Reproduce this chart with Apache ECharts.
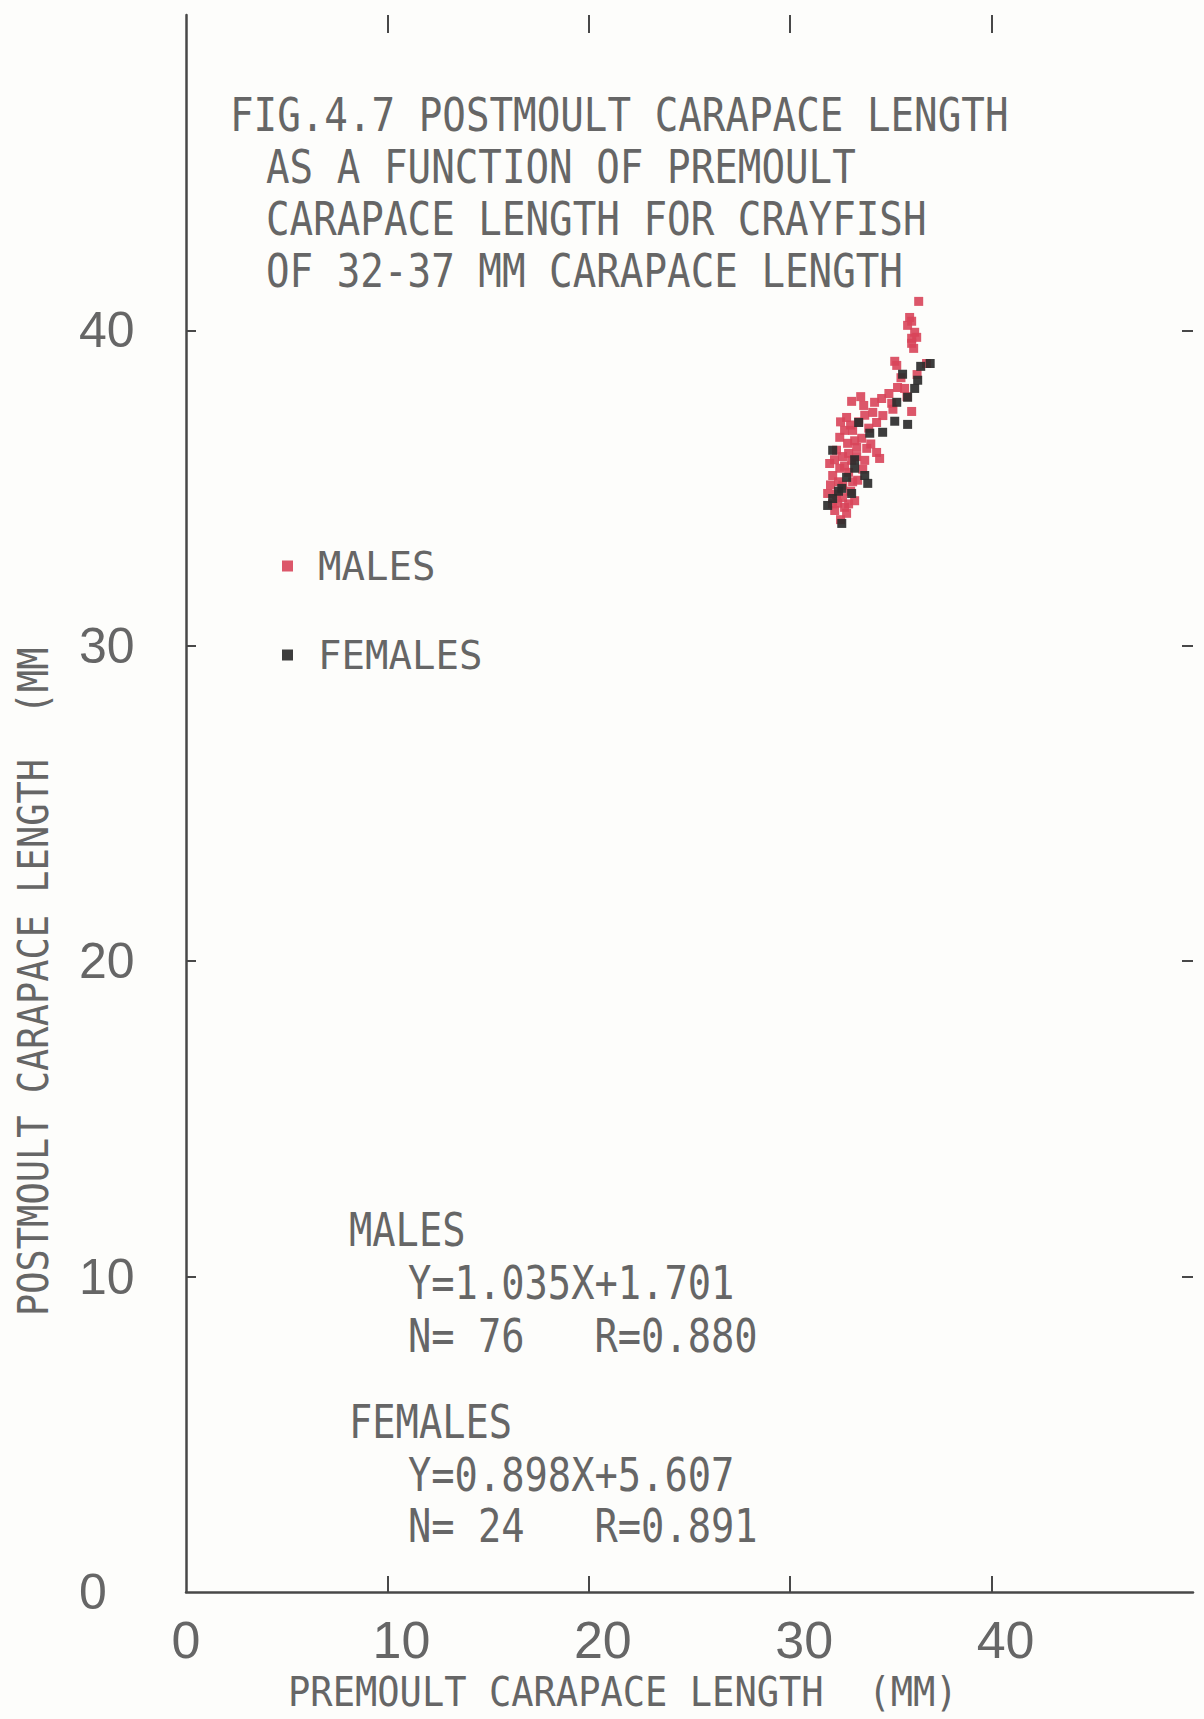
<!DOCTYPE html>
<html>
<head>
<meta charset="utf-8">
<script src="https://cdn.jsdelivr.net/npm/echarts@6/dist/echarts.min.js"></script>
<style>
html,body{margin:0;padding:0;background:#fdfdfb;}
#chart{width:1204px;height:1719px;}
</style>
</head>
<body>
<div id="chart"></div>
<script>
// ---- data (premoult carapace length, postmoult carapace length; mm) ----
const malesPre = [36.38,35.93,36.03,35.83,36.18,36.28,36.03,36.03,36.13,35.19,36.77,35.29,35.33,35.68,34.54,34.19,33.05,33.65,35.04,36.03,32.80,33.70,34.29,32.70,33.10,32.46,33.55,32.85,33.30,33.80,34.29,31.96,33.05,33.70,34.44,32.46,32.11,33.35,32.61,31.86,32.36,32.70,32.21,32.80,
  32.30,32.60,32.90,33.20,33.00,32.50,33.40,33.90,32.20,32.40,32.90,33.10,33.60,32.00,32.30,32.60,33.00,32.10,32.50,32.90,33.30,34.00,34.60,34.90,35.50,35.80,34.10,33.50,32.70,33.20,35.10,36.30];
const malesPost = [40.92,40.41,40.29,40.16,39.94,39.78,39.75,39.59,39.43,39.02,38.95,38.89,38.19,38.16,37.84,37.72,37.75,37.62,37.69,37.43,37.24,37.31,37.08,36.83,36.83,36.61,36.58,36.42,36.29,36.26,36.13,35.78,35.88,35.88,35.94,35.63,35.40,35.25,35.09,34.83,34.52,34.39,34.29,34.20,
  36.20,36.00,36.10,36.50,37.00,37.10,37.10,36.90,35.90,35.20,35.50,35.20,35.60,35.10,34.80,34.70,34.90,34.50,34.00,34.50,36.00,36.40,37.30,38.00,38.50,37.90,37.40,37.90,35.70,34.60,37.50,38.60];
const femalesPre = [36.48,35.58,36.33,36.18,35.83,35.29,33.40,35.19,35.83,33.95,34.59,32.11,33.20,32.80,33.70,33.85,32.56,33.05,32.11,31.86,32.56,36.95,33.20,32.40];
const femalesPost = [38.86,38.61,38.42,38.16,37.88,37.72,37.08,37.12,37.02,36.74,36.77,36.20,35.63,35.34,35.40,35.15,34.99,34.83,34.67,34.45,33.88,38.95,35.90,34.90];

const seriesNames = ['MALES', 'FEMALES'];
const xTickLabels = [0, 10, 20, 30, 40];
const yTickLabels = [0, 10, 20, 30, 40];
const innerTicks = [10, 20, 30, 40];

const titleLines = ['FIG.4.7 POSTMOULT CARAPACE LENGTH', 'AS A FUNCTION OF PREMOULT', 'CARAPACE LENGTH FOR CRAYFISH', 'OF 32-37 MM CARAPACE LENGTH'];
const statLines = ['MALES', 'Y=1.035X+1.701', 'N= 76   R=0.880', 'FEMALES', 'Y=0.898X+5.607', 'N= 24   R=0.891'];
const xTitle = 'PREMOULT CARAPACE LENGTH  (MM)';
const yTitle = 'POSTMOULT CARAPACE LENGTH  (MM';

// ---- presentation ----
const INK = '#666666';
const AXIS = '#484848';
const MONO = "'DejaVu Sans Mono', 'Liberation Mono', monospace";

function zipPts(xs, ys) { return xs.map((x, i) => [x, ys[i]]); }

// plotter-style text: given char advance and cap height
function ptext(text, x, y, adv, cap, rot) {
  const fs = cap / 0.729;
  const sx = adv / (0.602 * fs);
  return {
    type: 'text', x: x, y: y, rotation: rot || 0, scaleX: sx, scaleY: 1,
    silent: true,
    style: { text: text, font: fs.toFixed(1) + 'px ' + MONO, lineHeight: Math.round(cap * 1.15), fill: INK, align: 'left', verticalAlign: 'middle' }
  };
}

const graphics = [];
const titleX = [230, 266, 266, 266];
const titleY = [115, 167, 219, 271];
titleLines.forEach((t, i) => graphics.push(ptext(t, titleX[i], titleY[i], 23.6, 34)));
const statX = [349, 408, 408, 349, 408, 408];
const statY = [1230, 1283, 1336, 1422, 1475, 1526];
statLines.forEach((t, i) => graphics.push(ptext(t, statX[i], statY[i], 23.3, 33)));
graphics.push(ptext(xTitle, 288, 1692, 22.3, 30));
graphics.push(ptext(yTitle, 33, 1316, 22.3, 31, Math.PI / 2));

const tickStyle = { color: AXIS, width: 2 };
const chart = echarts.init(document.getElementById('chart'), null, { renderer: 'svg' });
chart.setOption({
  backgroundColor: '#fdfdfb',
  animation: false,
  grid: { left: 186, right: 11, top: 15, bottom: 127 },
  legend: {
    orient: 'vertical', left: 277, top: 541,
    itemWidth: 11, itemHeight: 11, itemGap: 49,
    icon: 'rect',
    data: seriesNames,
    textStyle: { fontFamily: MONO, fontSize: 39, lineHeight: 40, color: INK, padding: [0, 0, 0, 20] }
  },
  xAxis: [{
    type: 'value', min: 0, max: 50, interval: 10, position: 'bottom',
    axisLine: { show: true, onZero: false, lineStyle: { color: AXIS, width: 2.5 } },
    axisTick: { show: true, inside: true, length: 16, customValues: innerTicks, lineStyle: tickStyle },
    splitLine: { show: false },
    axisLabel: {
      customValues: xTickLabels, margin: 22,
      formatter: v => v === 0 ? '{z|0}' : '{t|' + v + '}',
      rich: {
        z: { fontFamily: "'Liberation Sans', Arial", fontSize: 52, lineHeight: 52, color: INK },
        t: { fontFamily: "'Liberation Sans', Arial", fontSize: 52, lineHeight: 52, color: INK, padding: [0, 0, 0, 28] }
      }
    }
  }, {
    type: 'value', min: 0, max: 50, interval: 10, position: 'top',
    axisLine: { show: true, onZero: false, lineStyle: { color: 'rgba(0,0,0,0)', width: 0 } },
    axisTick: { show: true, inside: true, length: 18, customValues: innerTicks, lineStyle: tickStyle },
    splitLine: { show: false }, axisLabel: { show: false }
  }],
  yAxis: [{
    type: 'value', min: 0, max: 50, interval: 10, position: 'left',
    axisLine: { show: true, onZero: false, lineStyle: { color: AXIS, width: 2.5 } },
    axisTick: { show: true, inside: true, length: 10, customValues: innerTicks, lineStyle: tickStyle },
    splitLine: { show: false },
    axisLabel: {
      customValues: yTickLabels, margin: 107, align: 'left',
      fontFamily: "'Liberation Sans', Arial", fontSize: 50, color: INK
    }
  }, {
    type: 'value', min: 0, max: 50, interval: 10, position: 'right',
    axisLine: { show: true, onZero: false, lineStyle: { color: 'rgba(0,0,0,0)', width: 0 } },
    axisTick: { show: true, inside: true, length: 11, customValues: innerTicks, lineStyle: tickStyle },
    splitLine: { show: false }, axisLabel: { show: false }
  }],
  series: [{
    name: seriesNames[0], type: 'scatter', xAxisIndex: 0, yAxisIndex: 0,
    symbol: 'rect', symbolSize: 9,
    itemStyle: { color: '#d8455a', opacity: 0.9 },
    data: zipPts(malesPre, malesPost)
  }, {
    name: seriesNames[1], type: 'scatter', xAxisIndex: 1, yAxisIndex: 1,
    symbol: 'rect', symbolSize: 9,
    itemStyle: { color: '#2d2d2d', opacity: 0.92 },
    data: zipPts(femalesPre, femalesPost)
  }],
  graphic: graphics
});
</script>
</body>
</html>
